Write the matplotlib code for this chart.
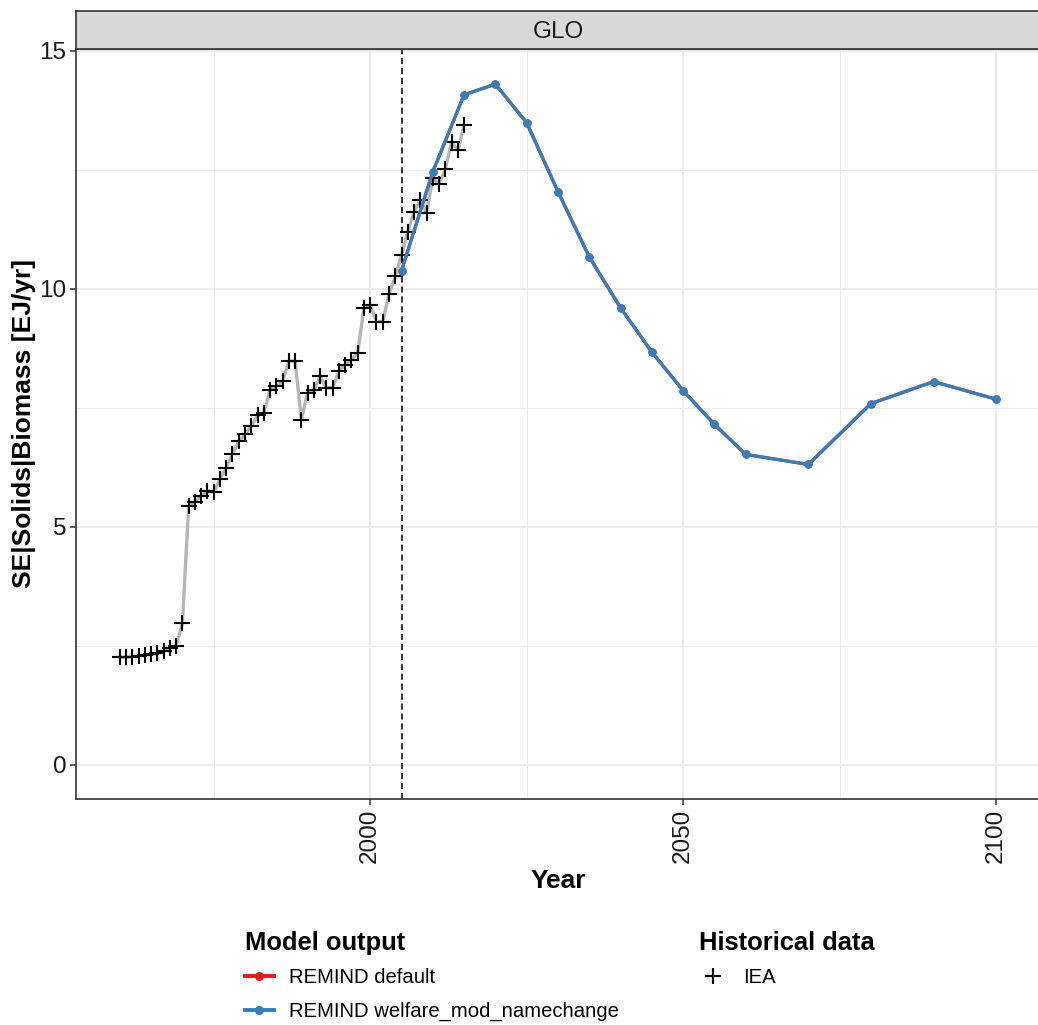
import matplotlib
matplotlib.use("Agg")
import matplotlib.pyplot as plt
from matplotlib.lines import Line2D
import numpy as np

plt.rcParams['font.family'] = ['Liberation Sans', 'DejaVu Sans']

# historical data (IEA), yearly 1960-2015
hist_years = list(range(1960, 2016))
hist_vals = [2.26, 2.26, 2.27, 2.29, 2.30, 2.32, 2.34, 2.39, 2.45, 2.50,
             2.97, 5.44, 5.53, 5.65, 5.75, 5.73, 6.00, 6.24, 6.54, 6.80,
             6.94, 7.11, 7.34, 7.39, 7.88, 7.95, 8.06, 8.48, 8.48, 7.25,
             7.82, 7.88, 8.16, 7.92, 7.92, 8.27, 8.41, 8.51, 8.66, 9.60,
             9.66, 9.31, 9.31, 9.89, 10.26, 10.71, 11.20, 11.62, 11.87, 11.60,
             12.32, 12.21, 12.51, 13.09, 12.91, 13.44]

# model output
model_years = [2005, 2010, 2015, 2020, 2025, 2030, 2035, 2040, 2045, 2050,
               2055, 2060, 2070, 2080, 2090, 2100]
remind_default = [10.38, 12.46, 14.08, 14.30, 13.49, 12.04, 10.67, 9.60, 8.67, 7.86,
                  7.15, 6.52, 6.31, 7.59, 8.05, 7.68]
remind_welfare = [10.38, 12.46, 14.08, 14.30, 13.49, 12.04, 10.67, 9.60, 8.67, 7.86,
                  7.15, 6.52, 6.31, 7.59, 8.05, 7.68]

W, H = 1038, 1025
fig = plt.figure(figsize=(W / 100, H / 100), dpi=100)

left, right = 76 / W, 1040 / W
bottom, top = 1 - 799 / H, 1 - 49 / H
ax = fig.add_axes([left, bottom, right - left, top - bottom])

# strip on top of panel
sax = fig.add_axes([left, top, right - left, 38 / H])
sax.set_facecolor('#D9D9D9')
sax.set_xticks([])
sax.set_yticks([])
for s in sax.spines.values():
    s.set_color('#333333')
    s.set_linewidth(1.2)
sax.text(0.5, 0.45, 'GLO', ha='center', va='center', fontsize=17.5, color='#1A1A1A',
         transform=sax.transAxes)

# grid
ax.set_xticks([2000, 2050, 2100])
ax.set_xticks([1975, 2025, 2075], minor=True)
ax.set_yticks([0, 5, 10, 15])
ax.set_yticks([2.5, 7.5, 12.5], minor=True)
ax.grid(which='major', color='#EBEBEB', linewidth=1.3)
ax.grid(which='minor', color='#EBEBEB', linewidth=0.7)
ax.set_axisbelow(True)

ax.plot(hist_years, hist_vals, color='#B5B5B5', linewidth=2.4, zorder=2)
ax.plot(hist_years, hist_vals, linestyle='none', marker='+', markersize=11,
        markeredgewidth=1.5, color='black', zorder=3)

ax.axvline(2005, color='black', linestyle=(0, (4, 2.5)), linewidth=1.1, zorder=2)

ax.plot(model_years, remind_default, color='#E41A1C', linewidth=2.3,
        marker='o', markersize=5, zorder=4)
ax.plot(model_years, remind_welfare, color='#377EB8', linewidth=2.3,
        marker='o', markersize=5, zorder=5)

ax.set_xlim(1953, 2107)
ax.set_ylim(-0.72, 15.04)

for s in ax.spines.values():
    s.set_color('#333333')
    s.set_linewidth(1.2)
ax.tick_params(which='major', length=4, width=1.1, color='#333333',
               labelsize=17.5, labelcolor='#1A1A1A', pad=3)
ax.tick_params(which='minor', length=0)
ax.tick_params(axis='x', labelrotation=90)

ax.set_xlabel('Year', fontsize=19, fontweight='bold', labelpad=4)
ax.set_ylabel('SE|Solids|Biomass [EJ/yr]', fontsize=19, fontweight='bold', labelpad=2)

# legends
h_model = [Line2D([], [], color='#E41A1C', linewidth=2.8, marker='o', markersize=5.5),
           Line2D([], [], color='#377EB8', linewidth=2.8, marker='o', markersize=5.5)]
leg1 = fig.legend(h_model, ['REMIND default', 'REMIND welfare_mod_namechange'],
                  title='Model output', loc='upper left',
                  bbox_to_anchor=(231 / W, 1 - 917 / H), frameon=False,
                  fontsize=14.6, title_fontproperties={'weight': 'bold', 'size': 18.4},
                  handlelength=1.4, handletextpad=0.75, labelspacing=0.75,
                  borderpad=0.2, alignment='left')
leg1._legend_box.sep = 9
h_hist = [Line2D([], [], color='black', linestyle='none', marker='+',
                 markersize=11, markeredgewidth=1.6)]
leg2 = fig.legend(h_hist, ['IEA'], title='Historical data', loc='upper left',
                  bbox_to_anchor=(685 / W, 1 - 917 / H), frameon=False,
                  fontsize=14.6, title_fontproperties={'weight': 'bold', 'size': 18.4},
                  handlelength=1.4, handletextpad=0.75, borderpad=0.2,
                  alignment='left')
leg2._legend_box.sep = 9

fig.savefig('out.png', dpi=100)
